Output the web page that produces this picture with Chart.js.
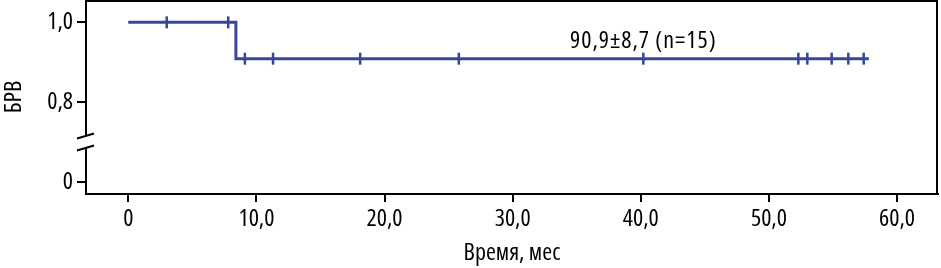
<!DOCTYPE html>
<html><head><meta charset="utf-8">
<script src="https://cdn.jsdelivr.net/npm/chart.js@4/dist/chart.umd.min.js"></script>
<style>html,body{margin:0;padding:0;background:#fff}#wrap{width:941px;height:268px;position:relative}</style>
</head><body><div id="wrap"><canvas id="c"></canvas></div>
<script>
// Kaplan–Meier step curve (time in months, survival proportion)
const stepTimes = [0, 8.4, 8.4, 57.8];
const stepSurv  = [1.0, 1.0, 0.909, 0.909];
// censored observations
const censorTimes = [3.0, 7.8, 9.1, 11.3, 18.1, 25.8, 40.2, 52.3, 53.0, 54.9, 56.2, 57.4];
const censorSurv  = [1.0, 1.0, 0.909, 0.909, 0.909, 0.909, 0.909, 0.909, 0.909, 0.909, 0.909, 0.909];
// y-axis: broken axis, the "0" tick is drawn at a pseudo position
const yTickValues = [0.6, 0.8, 1.0];
const yTickLabels = ["0", "0,8", "1,0"];
const xTickValues = [0, 10, 20, 30, 40, 50, 60];
const xTickLabels = ["0", "10,0", "20,0", "30,0", "40,0", "50,0", "60,0"];
const annotText = "90,9±8,7 (n=15)";
const annotX = 40.2, annotY = 0.909;

const FAMILY = "'Open Sans', sans-serif";
const STRETCH = 'condensed';
const COLOR = '#36469a';

const framePlugin = {
  id: 'frame',
  afterDraw(chart) {
    const {ctx, chartArea: a, scales} = chart;
    ctx.save();
    ctx.strokeStyle = '#000';
    ctx.lineWidth = 2;
    // top and right frame
    ctx.beginPath();
    ctx.moveTo(a.left, a.top + 1); ctx.lineTo(a.right - 1, a.top + 1); ctx.lineTo(a.right - 1, a.bottom);
    ctx.stroke();
    // left axis with break
    const yb1 = 136, yb2 = 148;
    ctx.beginPath();
    ctx.moveTo(a.left, a.top); ctx.lineTo(a.left, yb1);
    ctx.moveTo(a.left, yb2); ctx.lineTo(a.left, a.bottom + 1);
    ctx.stroke();
    ctx.beginPath();
    ctx.moveTo(a.left - 9, 138.5); ctx.lineTo(a.left + 8, 133.5);
    ctx.moveTo(a.left - 9, 150.5); ctx.lineTo(a.left + 8, 145.5);
    ctx.stroke();
    // annotation
    ctx.fillStyle = '#000';
    ctx.font = STRETCH + ' 24px ' + FAMILY;
    try { ctx.letterSpacing = '1px'; } catch (e) {}
    ctx.textAlign = 'center';
    ctx.textBaseline = 'middle';
    ctx.fillText(annotText, scales.x.getPixelForValue(annotX), scales.y.getPixelForValue(annotY) - 18);
    ctx.restore();
  }
};

const tickFont = {family: FAMILY, size: 24, weight: STRETCH};

new Chart(document.getElementById('c'), {
  type: 'scatter',
  data: {
    datasets: [
      {
        data: stepTimes.map((t, i) => ({x: t, y: stepSurv[i]})),
        showLine: true, borderColor: COLOR, borderWidth: 3, pointRadius: 0, fill: false
      },
      {
        data: censorTimes.map((t, i) => ({x: t, y: censorSurv[i]})),
        showLine: false, pointStyle: 'line', rotation: 90, radius: 6,
        borderColor: COLOR, backgroundColor: COLOR, borderWidth: 2.5
      }
    ]
  },
  options: {
    responsive: true, maintainAspectRatio: false, animation: false,
    layout: {autoPadding: false, padding: {top: 0, right: 3, left: 0, bottom: 0}},
    plugins: {legend: {display: false}, tooltip: {enabled: false}},
    scales: {
      x: {
        type: 'linear', min: -3.3, max: 63.2,
        afterBuildTicks: s => { s.ticks = xTickValues.map(v => ({value: v})); },
        ticks: {callback: (v) => xTickLabels[xTickValues.indexOf(v)], color: '#000', font: tickFont, padding: 3, maxRotation: 0, autoSkip: false},
        grid: {drawOnChartArea: false, drawTicks: true, tickLength: 8, color: '#000', lineWidth: 2},
        border: {display: true, color: '#000', width: 2},
        title: {display: true, text: 'Время, мес', color: '#000', font: tickFont, padding: {top: 4, bottom: 0}},
        afterFit: s => { s.height = 74; s.paddingLeft = 0; s.paddingRight = 0; }
      },
      y: {
        type: 'linear', min: 0.57, max: 1.056,
        afterBuildTicks: s => { s.ticks = yTickValues.map(v => ({value: v})); },
        ticks: {callback: (v) => yTickLabels[yTickValues.indexOf(v)], color: '#000', font: tickFont, padding: 4, autoSkip: false},
        grid: {drawOnChartArea: false, drawTicks: true, tickLength: 9, color: '#000', lineWidth: 2},
        border: {display: false},
        title: {display: true, text: 'БРВ', color: '#000', font: tickFont, padding: {top: 0, bottom: 0}},
        afterFit: s => { s.width = 86; s.paddingTop = 0; s.paddingBottom = 0; }
      }
    }
  },
  plugins: [framePlugin]
});
</script></body></html>
